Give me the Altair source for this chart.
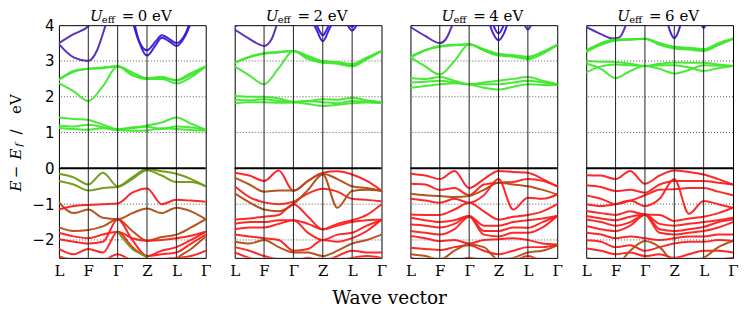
import altair as alt
import pandas as pd

# ---------------- data ----------------
XS = [0, 0.5, 1, 1.5, 2, 2.5, 3, 3.5, 4, 4.5, 5]
TICK_POS = [0, 1, 2, 3, 4, 5]
TICK_LABELS = ["L", "F", "Γ", "Z", "L", "Γ"]
HS_LINES = [1, 2, 3, 4]
U_VALUES = [0, 2, 4, 6]
GRID_Y = [-2, -1, 1, 2, 3]
Y_TICKS = [-2, -1, 0, 1, 2, 3, 4]
Y_DOMAIN = [-2.5, 4]

COLOR_KEYS = ["p", "b", "g", "o", "br", "r"]
COLOR_VALUES = ["#5226b4", "#3b17dc", "#3fe82c", "#6c9a12", "#b04c14", "#ff1c1c"]

BANDS_U0 = [
    ("p", [0, 0.5, 1, 1.3, 1.6], [3.5, 3.75, 3.97, 4.3, 4.6]),
    ("p", [0, 0.5, 1, 1.3, 1.55, 1.7], [3.47, 3.1, 3.0, 3.3, 3.9, 4.3]),
    ("b", [2.45, 2.7, 3, 3.3, 3.5, 3.75, 4, 4.3, 4.55], [4.3, 3.6, 3.3, 3.55, 3.72, 3.62, 3.5, 3.75, 4.3]),
    ("b", [2.5, 2.75, 3, 3.3, 3.5, 3.75, 4, 4.3, 4.6], [4.3, 3.5, 3.15, 3.45, 3.65, 3.55, 3.42, 3.7, 4.3]),
    ("g", XS, [2.48, 2.72, 2.78, 2.82, 2.85, 2.68, 2.52, 2.56, 2.45, 2.62, 2.85]),
    ("g", XS, [2.38, 2.15, 1.88, 2.3, 2.85, 2.62, 2.5, 2.5, 2.37, 2.55, 2.85]),
    ("g", XS, [2.48, 2.7, 2.78, 2.8, 2.85, 2.6, 2.5, 2.52, 2.47, 2.66, 2.85]),
    ("g", XS, [1.42, 1.38, 1.35, 1.22, 1.1, 1.12, 1.2, 1.28, 1.42, 1.25, 1.08]),
    ("g", XS, [1.2, 1.17, 1.22, 1.15, 1.08, 1.15, 1.16, 1.1, 1.17, 1.14, 1.08]),
    ("g", XS, [1.13, 1.1, 1.08, 1.12, 1.07, 1.05, 1.06, 1.12, 1.1, 1.07, 1.05]),
    ("o", XS, [-0.15, -0.25, -0.45, -0.12, -0.5, -0.25, -0.02, -0.08, -0.15, -0.3, -0.5]),
    ("o", XS, [-0.35, -0.45, -0.62, -0.55, -0.52, -0.3, -0.05, -0.2, -0.38, -0.38, -0.5]),
    ("br", XS, [-0.95, -1.25, -1.15, -1.38, -1.42, -1.25, -1.12, -1.25, -1.1, -1.2, -1.42]),
    ("r", XS, [-1.15, -1.05, -1.02, -1.0, -0.98, -0.68, -0.56, -1.0, -0.88, -0.9, -0.93]),
    ("br", XS, [-1.65, -1.75, -1.72, -1.62, -1.42, -1.75, -2.02, -1.92, -1.85, -1.65, -1.42]),
    ("r", XS, [-1.8, -1.9, -1.95, -1.85, -1.77, -1.95, -2.02, -2.0, -1.95, -1.88, -1.77]),
    ("r", XS, [-1.98, -2.05, -2.1, -2.05, -1.42, -2.0, -2.45, -2.3, -2.2, -2.0, -1.77]),
    ("r", XS, [-2.25, -2.4, -2.25, -2.35, -1.77, -2.2, -2.45, -2.4, -2.35, -2.1, -1.85]),
    ("o", [2, 2.5, 3, 3.2], [-1.77, -2.25, -2.5, -2.7]),
    ("r", XS, [-2.45, -2.6, -2.75, -2.6, -2.4, -2.6, -2.8, -2.55, -2.5, -2.45, -2.3]),
    ("br", [3.8, 4, 4.5, 5], [-2.8, -2.55, -2.25, -1.9]),
]

BANDS_U2 = [
    ("p", [0, 0.5, 1, 1.25, 1.5], [3.88, 3.62, 3.42, 3.6, 4.2]),
    ("p", [0, 0.2, 0.4], [3.97, 4.05, 4.3]),
    ("b", [2.55, 2.8, 3, 3.2, 3.45], [4.3, 3.85, 3.55, 3.85, 4.3]),
    ("b", [2.65, 2.85, 3, 3.15, 3.35], [4.3, 3.9, 3.72, 3.9, 4.3]),
    ("b", [3.7, 3.85, 4, 4.15, 4.3], [4.3, 4.0, 3.85, 4.0, 4.3]),
    ("b", [3.8, 4, 4.2], [4.2, 3.95, 4.2]),
    ("g", XS, [2.95, 3.12, 3.22, 3.25, 3.28, 3.1, 2.98, 2.95, 2.88, 3.05, 3.28]),
    ("g", XS, [2.85, 2.6, 2.35, 2.8, 3.28, 3.05, 2.95, 2.92, 2.85, 3.05, 3.28]),
    ("g", XS, [2.95, 3.1, 3.2, 3.24, 3.28, 3.14, 3.0, 2.97, 2.92, 3.1, 3.28]),
    ("g", XS, [2.02, 2.0, 2.0, 1.95, 1.86, 1.88, 1.93, 1.92, 1.97, 1.9, 1.85]),
    ("g", XS, [1.92, 1.9, 1.93, 1.88, 1.85, 1.88, 1.85, 1.82, 1.88, 1.86, 1.83]),
    ("g", XS, [1.82, 1.85, 1.85, 1.83, 1.84, 1.8, 1.74, 1.78, 1.82, 1.84, 1.83]),
    ("r", XS, [-0.12, -0.2, -0.35, -0.06, -0.63, -0.35, -0.12, -0.08, -0.17, -0.35, -0.62]),
    ("br", XS, [-0.26, -0.45, -0.65, -0.62, -0.62, -0.35, -0.15, -0.3, -0.5, -0.55, -0.63]),
    ("r", XS, [-0.5, -0.8, -0.95, -1.0, -0.93, -0.7, -0.57, -0.65, -0.85, -0.88, -0.92]),
    ("br", XS, [-0.7, -0.95, -1.15, -1.2, -1.0, -0.6, -0.17, -1.1, -0.63, -0.6, -0.63]),
    ("r", XS, [-1.43, -1.4, -1.35, -1.3, -1.0, -1.35, -1.7, -1.55, -1.45, -1.3, -1.0]),
    ("r", XS, [-1.55, -1.5, -1.5, -1.45, -1.45, -1.55, -1.7, -1.6, -1.5, -1.45, -1.43]),
    ("r", XS, [-1.7, -1.65, -1.65, -1.55, -1.45, -1.8, -2.0, -1.85, -1.8, -1.6, -1.45]),
    ("r", XS, [-1.85, -1.9, -1.95, -2.0, -2.3, -2.25, -2.0, -2.05, -1.95, -1.75, -1.43]),
    ("br", XS, [-2.05, -2.1, -2.0, -2.2, -2.35, -2.35, -2.45, -2.3, -2.1, -2.0, -1.85]),
    ("r", XS, [-2.2, -2.3, -2.45, -2.55, -2.6, -2.5, -2.6, -2.45, -2.3, -2.35, -2.35]),
    ("r", XS, [-2.35, -2.5, -2.6, -2.7, -2.75, -2.7, -2.8, -2.6, -2.5, -2.45, -2.5]),
]

BANDS_U4 = [
    ("p", [0, 0.5, 1, 1.2, 1.4, 1.55], [3.95, 3.7, 3.5, 3.6, 3.95, 4.3]),
    ("b", [2.6, 2.8, 3, 3.2, 3.4], [4.3, 3.8, 3.58, 3.8, 4.3]),
    ("b", [2.7, 2.85, 3, 3.15, 3.3], [4.3, 3.95, 3.77, 3.95, 4.3]),
    ("b", [3.8, 4, 4.2], [4.2, 3.88, 4.2]),
    ("g", XS, [3.1, 3.3, 3.42, 3.45, 3.47, 3.3, 3.15, 3.12, 3.05, 3.2, 3.45]),
    ("g", XS, [3.1, 2.85, 2.62, 3.0, 3.47, 3.3, 3.18, 3.15, 3.1, 3.25, 3.45]),
    ("g", XS, [3.12, 3.3, 3.4, 3.44, 3.47, 3.33, 3.2, 3.16, 3.12, 3.25, 3.45]),
    ("g", XS, [2.52, 2.5, 2.55, 2.45, 2.35, 2.4, 2.45, 2.5, 2.55, 2.45, 2.35]),
    ("g", XS, [2.4, 2.42, 2.45, 2.4, 2.35, 2.35, 2.35, 2.4, 2.45, 2.4, 2.35]),
    ("g", XS, [2.25, 2.3, 2.35, 2.38, 2.35, 2.25, 2.2, 2.28, 2.35, 2.33, 2.33]),
    ("r", XS, [-0.15, -0.2, -0.3, -0.07, -0.55, -0.3, -0.07, -0.1, -0.12, -0.3, -0.5]),
    ("r", XS, [-0.43, -0.45, -0.6, -0.55, -0.75, -0.45, -0.4, -0.38, -0.3, -0.35, -0.5]),
    ("br", XS, [-0.71, -0.75, -0.77, -0.8, -0.77, -0.6, -0.4, -0.45, -0.5, -0.6, -0.73]),
    ("r", XS, [-0.85, -0.9, -0.96, -0.85, -0.96, -0.75, -0.3, -1.15, -0.82, -0.85, -0.73]),
    ("r", XS, [-1.29, -1.3, -1.3, -1.15, -0.96, -1.2, -1.43, -1.35, -1.3, -1.2, -1.0]),
    ("r", XS, [-1.38, -1.45, -1.5, -1.45, -1.33, -1.6, -1.6, -1.5, -1.45, -1.4, -1.33]),
    ("r", XS, [-1.57, -1.6, -1.65, -1.55, -1.33, -1.75, -1.75, -1.65, -1.66, -1.5, -1.33]),
    ("r", XS, [-1.75, -1.8, -1.85, -1.7, -1.35, -1.85, -1.9, -1.8, -1.8, -1.65, -1.33]),
    ("r", XS, [-1.89, -1.95, -2.03, -2.0, -2.1, -2.0, -1.98, -1.95, -2.0, -2.1, -2.13]),
    ("r", XS, [-2.22, -2.25, -2.28, -2.2, -2.15, -2.3, -2.4, -2.3, -2.2, -2.2, -2.15]),
    ("br", XS, [-2.4, -2.45, -2.55, -2.3, -2.13, -2.2, -2.55, -2.5, -2.35, -2.3, -2.15]),
    ("r", XS, [-2.5, -2.6, -2.75, -2.6, -2.5, -2.6, -2.7, -2.6, -2.45, -2.6, -2.7]),
]

BANDS_U6 = [
    ("p", [0, 0.5, 0.9, 1.1, 1.3, 1.45], [3.95, 3.75, 3.63, 3.65, 3.9, 4.3]),
    ("b", [2.7, 2.85, 3, 3.15, 3.3], [4.3, 3.85, 3.64, 3.85, 4.3]),
    ("b", [3.85, 4, 4.15], [4.2, 3.92, 4.2]),
    ("g", XS, [3.28, 3.5, 3.6, 3.61, 3.62, 3.5, 3.38, 3.35, 3.3, 3.45, 3.62]),
    ("g", XS, [3.3, 3.48, 3.58, 3.6, 3.62, 3.45, 3.35, 3.32, 3.28, 3.45, 3.62]),
    ("g", XS, [3.25, 3.45, 3.57, 3.6, 3.62, 3.48, 3.4, 3.37, 3.33, 3.5, 3.62]),
    ("g", XS, [3.0, 2.98, 2.97, 2.92, 2.86, 2.92, 2.96, 2.95, 2.95, 2.9, 2.86]),
    ("g", XS, [2.93, 2.78, 2.52, 2.72, 2.86, 2.78, 2.65, 2.75, 2.88, 2.87, 2.86]),
    ("g", XS, [2.68, 2.85, 2.9, 2.88, 2.86, 2.88, 2.88, 2.82, 2.72, 2.8, 2.86]),
    ("r", XS, [-0.19, -0.2, -0.3, -0.07, -0.43, -0.2, -0.06, -0.1, -0.17, -0.3, -0.45]),
    ("r", XS, [-0.47, -0.52, -0.63, -0.6, -0.68, -0.45, -0.35, -0.35, -0.35, -0.4, -0.45]),
    ("r", XS, [-0.76, -0.85, -1.0, -0.9, -0.75, -0.6, -0.58, -0.55, -0.55, -0.65, -0.75]),
    ("r", XS, [-1.0, -1.05, -1.0, -0.9, -1.05, -0.85, -0.3, -1.27, -0.91, -1.0, -1.1]),
    ("r", XS, [-1.19, -1.25, -1.3, -1.2, -1.29, -1.3, -1.47, -1.4, -1.35, -1.25, -1.1]),
    ("r", XS, [-1.33, -1.4, -1.45, -1.35, -1.29, -1.55, -1.6, -1.55, -1.5, -1.45, -1.38]),
    ("r", XS, [-1.43, -1.5, -1.6, -1.5, -1.29, -1.7, -1.75, -1.7, -1.64, -1.5, -1.43]),
    ("r", XS, [-1.61, -1.7, -1.75, -1.6, -1.3, -1.8, -1.85, -1.8, -1.75, -1.65, -1.5]),
    ("r", XS, [-1.8, -1.85, -1.95, -1.9, -1.95, -2.0, -1.95, -1.9, -1.9, -1.85, -1.85]),
    ("r", XS, [-2.01, -2.05, -2.2, -2.15, -2.3, -2.2, -2.1, -2.05, -2.05, -2.0, -2.03]),
    ("r", XS, [-2.24, -2.3, -2.4, -2.35, -2.45, -2.4, -2.5, -2.4, -2.3, -2.3, -2.35]),
    ("br", XS, [-2.5, -2.6, -2.7, -2.3, -2.03, -2.2, -2.6, -2.6, -2.5, -2.2, -2.03]),
    ("r", XS, [-2.6, -2.65, -2.75, -2.65, -2.6, -2.65, -2.75, -2.7, -2.6, -2.55, -2.5]),
]

ALL_BANDS = [BANDS_U0, BANDS_U2, BANDS_U4, BANDS_U6]

SERIF = "DejaVu Serif"
SANS = "DejaVu Sans"
PANEL_W = 147
PANEL_H = 233


def band_frame(bands):
    rows = []
    for i, (c, xs, ys) in enumerate(bands):
        for x, y in zip(xs, ys):
            rows.append({"x": x, "y": y, "band": i, "c": c})
    return pd.DataFrame(rows)


label_expr = "[" + ",".join("'%s'" % t for t in TICK_LABELS) + "][datum.value]"
x_axis = alt.Axis(values=TICK_POS, labelExpr=label_expr, grid=False, ticks=False,
                  domain=False, labelFont=SERIF, labelFontSize=15, labelColor="black",
                  labelPadding=6, labelFlush=False, title=None)
x_scale = alt.Scale(domain=[0, 5], nice=False, zero=False)
y_scale = alt.Scale(domain=Y_DOMAIN, nice=False, zero=False)

ONE_ROW = pd.DataFrame({"k": [0]})


def text_piece(txt, x, y, size=15, style="normal", angle=0, font=SERIF, align="left",
               baseline="alphabetic"):
    return alt.Chart(ONE_ROW).mark_text(
        text=txt, font=font, fontSize=size, fontStyle=style, angle=angle,
        align=align, baseline=baseline, color="black"
    ).encode(x=alt.value(x), y=alt.value(y))


def make_panel(idx):
    u = U_VALUES[idx]
    if idx == 0:
        y_axis = alt.Axis(values=Y_TICKS, grid=False, ticks=False, domain=False,
                          labelFont=SANS, labelFontSize=15, labelColor="black",
                          labelPadding=5, title=None)
    else:
        y_axis = None
    X = alt.X("x:Q", scale=x_scale, axis=x_axis)
    Y = alt.Y("y:Q", scale=y_scale, axis=y_axis)

    grid = alt.Chart(pd.DataFrame({"y": GRID_Y})).mark_rule(
        strokeDash=[1, 2], color="#555555", strokeWidth=1).encode(y=Y)
    bands = alt.Chart(band_frame(ALL_BANDS[idx])).mark_line(
        interpolate="monotone", clip=True, strokeWidth=2, strokeCap="round", opacity=0.95
    ).encode(
        x=X, y=Y,
        color=alt.Color("c:N", scale=alt.Scale(domain=COLOR_KEYS, range=COLOR_VALUES), legend=None),
        detail="band:N",
    )
    vlines = alt.Chart(pd.DataFrame({"x": HS_LINES})).mark_rule(
        color="#222222", strokeWidth=1).encode(x=X)
    zero = alt.Chart(pd.DataFrame({"y": [0]})).mark_rule(
        color="black", strokeWidth=2).encode(y=Y)

    layers = [grid, bands, vlines, zero,
              text_piece("U", 31, -4, style="italic"),
              text_piece("eff", 43, -2, size=10),
              text_piece("=", 63, -4),
              text_piece("%d eV" % u, 79, -4)]
    if idx == 0:
        lx = -43
        layers += [
            text_piece("E", lx, 161, style="italic", angle=270, align="center", baseline="middle"),
            text_piece("−", lx, 147, angle=270, align="center", baseline="middle"),
            text_piece("E", lx, 129, style="italic", angle=270, align="center", baseline="middle"),
            text_piece("f", lx + 3, 120, size=10, style="italic", angle=270, align="center", baseline="middle"),
            text_piece("/", lx, 107, angle=270, align="center", baseline="middle"),
            text_piece("eV", lx, 79, angle=270, align="center", baseline="middle"),
        ]
    return alt.layer(*layers).properties(width=PANEL_W, height=PANEL_H)


panels = [make_panel(i) for i in range(4)]

chart = alt.hconcat(*panels, spacing=29, bounds="flush").properties(
    title=alt.TitleParams("Wave vector", orient="bottom", anchor="middle", font=SERIF,
                          fontSize=18.5, fontWeight="normal", color="black", offset=10, dx=16),
    padding=0,
).configure_view(stroke="black", strokeWidth=1)

chart.save("out.html", embed_options={"renderer": "svg", "actions": False})
